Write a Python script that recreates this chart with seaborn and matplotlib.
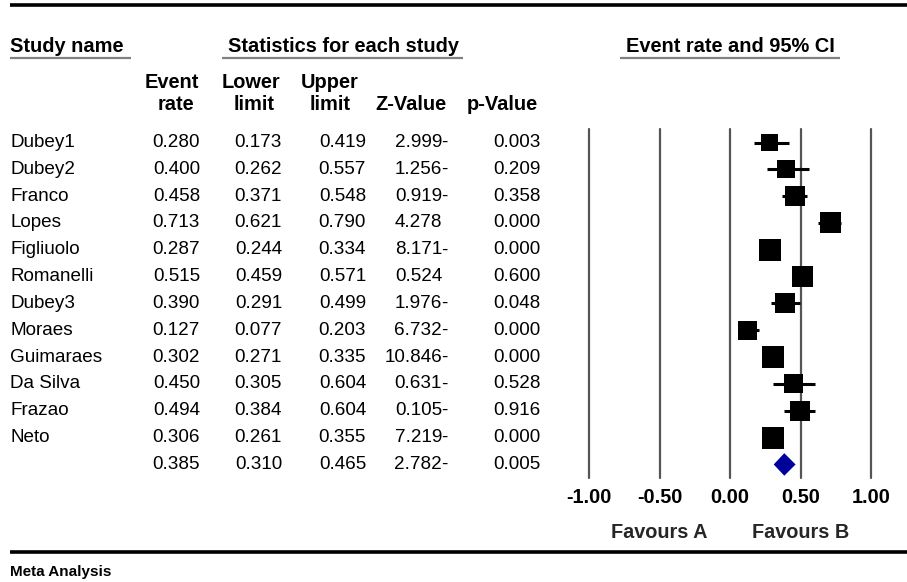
import matplotlib
matplotlib.use("Agg")
import matplotlib.pyplot as plt
import matplotlib.transforms as mtransforms
from matplotlib.lines import Line2D
import numpy as np
import pandas as pd
import seaborn as sns

# ---- data -------------------------------------------------------------
studies = ["Dubey1", "Dubey2", "Franco", "Lopes", "Figliuolo", "Romanelli",
           "Dubey3", "Moraes", "Guimaraes", "Da Silva", "Frazao", "Neto"]
event_rate = [0.280, 0.400, 0.458, 0.713, 0.287, 0.515,
              0.390, 0.127, 0.302, 0.450, 0.494, 0.306]
lower_limit = [0.173, 0.262, 0.371, 0.621, 0.244, 0.459,
               0.291, 0.077, 0.271, 0.305, 0.384, 0.261]
upper_limit = [0.419, 0.557, 0.548, 0.790, 0.334, 0.571,
               0.499, 0.203, 0.335, 0.604, 0.604, 0.355]
z_value = [-2.999, -1.256, -0.919, 4.278, -8.171, 0.524,
           -1.976, -6.732, -10.846, -0.631, -0.105, -7.219]
p_value = [0.003, 0.209, 0.358, 0.000, 0.000, 0.600,
           0.048, 0.000, 0.000, 0.528, 0.916, 0.000]
# relative study weights (drive the square size)
weight = [18, 18, 20, 21, 22, 21, 20, 19, 22, 19, 20, 22]

summary_rate = 0.385
summary_lower = 0.310
summary_upper = 0.465
summary_z = -2.782
summary_p = 0.005

axis_ticks = [-1.0, -0.5, 0.0, 0.5, 1.0]
tick_labels = ["-1.00", "-0.50", "0.00", "0.50", "1.00"]
favours = ["Favours A", "Favours B"]

# ---- figure -----------------------------------------------------------
W, H = 907, 582
sns.set_theme(style="white")
plt.rcParams["font.family"] = ["Liberation Sans", "DejaVu Sans"]

fig = plt.figure(figsize=(W / 100, H / 100), dpi=100)
fig.patch.set_facecolor("white")


def fx(px):
    return px / W


def fy(py):
    return 1 - py / H


# forest panel: x from -1 to 1, rows top to bottom
ax_left, ax_right, ax_top, ax_bot = 589, 871, 129, 478
ax = fig.add_axes([fx(ax_left), fy(ax_bot), fx(ax_right - ax_left),
                   (ax_bot - ax_top) / H])
row_px = 26.83
first_row_px = 142.5
ax.set_xlim(-1, 1)
ax.set_ylim((ax_bot - first_row_px) / row_px, (ax_top - first_row_px) / row_px)
ax.set_facecolor("none")
for s in ax.spines.values():
    s.set_visible(False)

for t in axis_ticks:
    ax.axvline(t, color="#555555", lw=1.6, clip_on=False, zorder=1)

df = pd.DataFrame({"study": studies, "rate": event_rate, "lo": lower_limit,
                   "hi": upper_limit, "weight": weight,
                   "row": np.arange(len(studies))})

ax.hlines(df["row"], df["lo"], df["hi"], color="black", lw=2.2, zorder=2)
sns.scatterplot(data=df, x="rate", y="row", size="weight", sizes=(165, 250),
                size_norm=(min(weight), max(weight)), marker="s",
                color="black", edgecolor="black", linewidth=0,
                legend=False, ax=ax, zorder=3)

# pooled estimate diamond
srow = len(studies)
half_h = 0.42
ax.fill([summary_lower, summary_rate, summary_upper, summary_rate],
        [srow, srow - half_h, srow, srow + half_h],
        color="#00009a", zorder=3, lw=0)

ax.set_xticks(axis_ticks)
ax.set_xticklabels(tick_labels, fontsize=14.3, fontweight="bold")
ax.set_yticks([])
ax.tick_params(axis="x", length=0, pad=7, colors="black")
ax.set_xlabel("")
ax.set_ylabel("")

# favours labels under the axis
fav_tr = mtransforms.blended_transform_factory(ax.transData, fig.transFigure)
ax.text(-0.5, fy(533), favours[0], transform=fav_tr, ha="center",
        va="center", fontsize=14.3, fontweight="bold")
ax.text(0.5, fy(533), favours[1], transform=fav_tr, ha="center",
        va="center", fontsize=14.3, fontweight="bold")

# ---- table ------------------------------------------------------------
row_tr = mtransforms.blended_transform_factory(fig.transFigure, ax.transData)
fs = 13.6
col_event, col_low, col_up, col_z, col_p = 200, 282, 366, 442, 541


def put(px, row, txt, ha="right"):
    fig.text(fx(px), row, txt, transform=row_tr, ha=ha, va="center",
             fontsize=fs, color="black")


def put_z(row, z):
    put(col_z, row, f"{abs(z):.3f}")
    if z < 0:
        put(col_z - 1, row, "-", ha="left")


for i, name in enumerate(studies):
    put(10, i, name, ha="left")
    put(col_event, i, f"{event_rate[i]:.3f}")
    put(col_low, i, f"{lower_limit[i]:.3f}")
    put(col_up, i, f"{upper_limit[i]:.3f}")
    put_z(i, z_value[i])
    put(col_p, i, f"{p_value[i]:.3f}")

put(col_event, srow, f"{summary_rate:.3f}")
put(col_low, srow, f"{summary_lower:.3f}")
put(col_up, srow, f"{summary_upper:.3f}")
put_z(srow, summary_z)
put(col_p, srow, f"{summary_p:.3f}")

# ---- headers ----------------------------------------------------------
hfs = 14.4


def head(px, py, txt, ha="center"):
    fig.text(fx(px), fy(py), txt, ha=ha, va="center", fontsize=hfs,
             fontweight="bold", color="black")


head(10, 46, "Study name", ha="left")
head(343, 46, "Statistics for each study")
head(730, 46, "Event rate and 95% CI")

head(172, 83, "Event")
head(176, 105, "rate")
head(251, 83, "Lower")
head(254, 105, "limit")
head(330, 83, "Upper")
head(330, 105, "limit")
head(411, 105, "Z-Value")
head(502, 105, "p-Value")


def hline(x0, x1, py, color, lw):
    fig.add_artist(Line2D([fx(x0), fx(x1)], [fy(py), fy(py)],
                          transform=fig.transFigure, color=color, lw=lw,
                          solid_capstyle="butt"))


hline(10, 131, 58, "#808080", 1.6)
hline(222, 463, 58, "#808080", 1.6)
hline(620, 840, 58, "#808080", 1.6)

hline(10, 907, 5, "black", 2.6)
hline(10, 907, 552, "black", 2.6)

fig.text(fx(10), fy(572), "Meta Analysis", ha="left", va="center",
         fontsize=11, fontweight="bold", color="black")

fig.savefig("out.png", dpi=100, facecolor="white")
